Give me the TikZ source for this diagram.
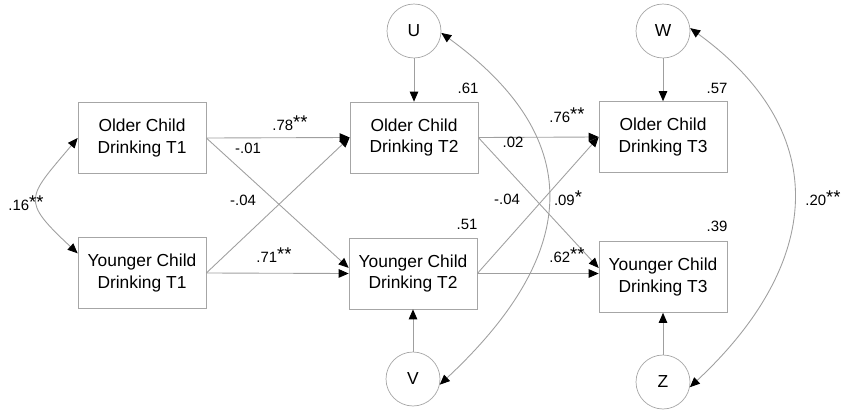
\documentclass[tikz,border=0pt]{standalone}
\usepackage{fontspec}
\setmainfont{Liberation Sans}
\usetikzlibrary{arrows.meta}
\newcommand{\sig}[1]{\raisebox{0.25ex}{\fontsize{10.5}{10}\selectfont #1}}

\tikzset{
  var/.style={draw=gray!70, minimum width=2.56cm, minimum height=1.42cm, align=center, font=\fontsize{9.9}{12.5}\selectfont},
  err/.style={circle, draw=gray!70, minimum size=1.08cm, font=\fontsize{9.9}{12}\selectfont},
  est/.style={font=\fontsize{8.5}{9}\selectfont, inner sep=0pt},
  reg/.style={draw=gray!75, line width=0.5pt, -{Triangle[length=0.2cm,width=0.17cm,color=black]}},
  cov/.style={draw=gray!75, line width=0.5pt, {Triangle[length=0.2cm,width=0.17cm,color=black]}-{Triangle[length=0.2cm,width=0.17cm,color=black]}}
}

\begin{document}
\begin{tikzpicture}[x=0.02cm, y=0.02cm]
    \useasboundingbox (0,0) rectangle (841,410);
    % observed variables
    \node[var] (o1) at (142,272) {Older Child\\Drinking T1};
    \node[var] (y1) at (142,137) {Younger Child\\Drinking T1};
    \node[var] (o2) at (414,272.5) {Older Child\\Drinking T2};
    \node[var] (y2) at (413,136.5) {Younger Child\\Drinking T2};
    \node[var] (o3) at (663,273) {Older Child\\Drinking T3};
    \node[var] (y3) at (663,133) {Younger Child\\Drinking T3};
    % residuals
    \node[err] (u) at (414,379) {U};
    \node[err] (v) at (413,31) {V};
    \node[err] (w) at (663,379) {W};
    \node[err] (z) at (663,28) {Z};

    \foreach \from/\to in
    {u/o2,v/y2,w/o3,z/y3,o1.east/o2.west,o1.east/y2.175,y1.east/o2.west,y1.east/y2.west,o2.east/o3.west,o2.east/y3.172,y2.east/o3.west}
    \draw[reg] (\from) -- (\to);
    \draw[reg] (y2.east) -- (y2.east -| y3.west);

    % covariances
    \draw[cov] (o1.west) to[out=230, in=137, looseness=1.75] (y1.163);
    \draw[cov] (u.-4) to[out=-36, in=43, looseness=1.35] (v.-12);
    \draw[cov] (w.6) to[out=-36, in=43, looseness=1.28] (z.-11);

    % estimates
    \node[est] (e1) at (290,287) {.78\sig{**}};
    \node[est] (e2) at (248,262) {-.01};
    \node[est] (e3) at (243,210) {-.04};
    \node[est] (e4) at (274,155) {.71\sig{**}};
    \node[est] (e5) at (567,295) {.76\sig{**}};
    \node[est] (e6) at (513,268) {.02};
    \node[est] (e7) at (507,211) {-.04};
    \node[est] (e8) at (568,212) {.09\sig{*}};
    \node[est] (e9) at (567,155) {.62\sig{**}};
    \node[est] (e10) at (26,207) {.16\sig{**}};
    \node[est] (e11) at (823,212) {.20\sig{**}};
    \node[est] (r1) at (468,322) {.61};
    \node[est] (r2) at (467,186) {.51};
    \node[est] (r3) at (717,322) {.57};
    \node[est] (r4) at (717,184) {.39};
\end{tikzpicture}
\end{document}
